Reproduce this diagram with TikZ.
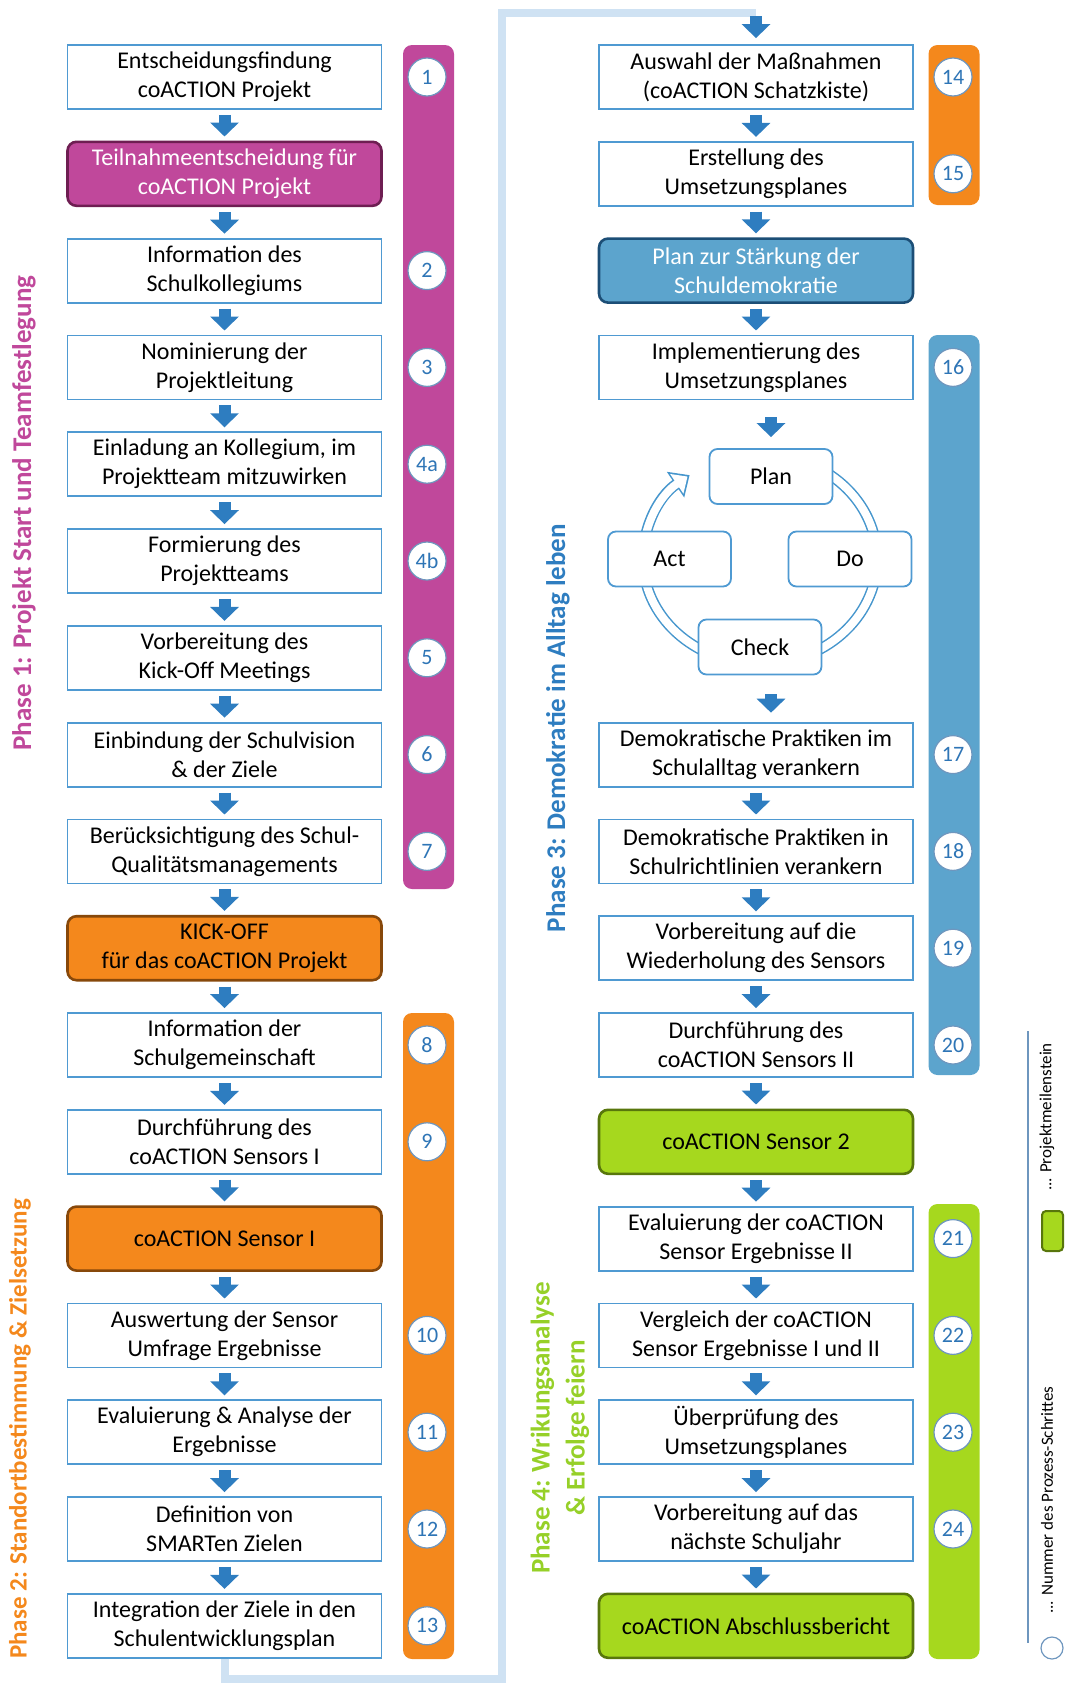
\documentclass[tikz,border=0pt]{standalone}
\usepackage{fontspec}
\setmainfont{Carlito}
\usetikzlibrary{arrows.meta}

\definecolor{stepline}{RGB}{79,154,210}
\definecolor{arrowblue}{RGB}{46,125,192}
\definecolor{magentaP}{RGB}{192,72,155}
\definecolor{magentaD}{RGB}{110,30,82}
\definecolor{orangeP}{RGB}{244,136,28}
\definecolor{orangeD}{RGB}{135,72,10}
\definecolor{blueP}{RGB}{92,164,205}
\definecolor{blueD}{RGB}{28,78,118}
\definecolor{greenP}{RGB}{166,216,30}
\definecolor{greenD}{RGB}{88,118,12}
\definecolor{greenT}{RGB}{150,208,40}
\definecolor{loopblue}{RGB}{207,226,243}
\definecolor{numblue}{RGB}{46,117,182}
\definecolor{numline}{RGB}{110,150,190}
\definecolor{ringline}{RGB}{70,150,205}

\begin{document}
\begin{tikzpicture}[x=1pt, y=-1pt,
	every node/.style={font=\fontsize{24}{29}\selectfont},
	stepbox/.style={draw=stepline, line width=1.8pt, fill=white, minimum width=314pt, minimum height=64pt, inner sep=0pt, align=center},
	milestone/.style={stepbox, rounded corners=9pt, line width=2.6pt},
	mmagenta/.style={milestone, fill=magentaP, draw=magentaD, text=white},
	morange/.style={milestone, fill=orangeP, draw=orangeD},
	mblue/.style={milestone, fill=blueP, draw=blueD, text=white},
	mgreen/.style={milestone, fill=greenP, draw=greenD},
	cycbox/.style={draw=stepline, line width=1.8pt, fill=white, rounded corners=8pt, minimum width=123pt, minimum height=55pt, inner sep=0pt},
	bar/.style={rectangle, rounded corners=9pt, minimum width=51pt, inner sep=0pt},
	num/.style={circle, draw=numline, line width=1.2pt, fill=white, minimum size=38pt, inner sep=0pt, text=numblue, font=\fontsize{22}{24}\selectfont},
	phase/.style={rotate=90, align=center, font=\fontsize{27}{35}\selectfont\bfseries},
	flow/.style={arrowblue, line width=12pt, -{Triangle[width=28pt,length=14pt]}, shorten <=5pt, shorten >=4pt},
	loopline/.style={loopblue, line width=8pt}]
	\useasboundingbox (0,0) rectangle (1065,1684);

	% coloured phase bars behind the step numbers
	\node[bar, fill=magentaP, minimum height=844pt] (B1) at (428.5,467) {};
	\node[bar, fill=orangeP, minimum height=646pt] (B2) at (428.5,1336) {};
	\node[bar, fill=orangeP, minimum height=160pt] (B3) at (954,125) {};
	\node[bar, fill=blueP, minimum height=740pt] (B4) at (954,705) {};
	\node[bar, fill=greenP, minimum height=455pt] (B5) at (954,1431.5) {};

	% left column
	\node[stepbox] (L0) at (224.5,77) {Entscheidungsfindung\\coACTION Projekt};
	\node[mmagenta] (L1) at (224.5,173.8) {Teilnahmeentscheidung für\\coACTION Projekt};
	\node[stepbox] (L2) at (224.5,270.6) {Information des\\Schulkollegiums};
	\node[stepbox] (L3) at (224.5,367.4) {Nominierung der\\Projektleitung};
	\node[stepbox] (L4) at (224.5,464.2) {Einladung an Kollegium, im\\Projektteam mitzuwirken};
	\node[stepbox] (L5) at (224.5,561) {Formierung des\\Projektteams};
	\node[stepbox] (L6) at (224.5,657.8) {Vorbereitung des\\Kick-Off Meetings};
	\node[stepbox] (L7) at (224.5,754.6) {Einbindung der Schulvision\\\& der Ziele};
	\node[stepbox] (L8) at (224.5,851.4) {Berücksichtigung des Schul-\\Qualitätsmanagements};
	\node[morange] (L9) at (224.5,948.2) {KICK-OFF\\für das coACTION Projekt};
	\node[stepbox] (L10) at (224.5,1045) {Information der\\Schulgemeinschaft};
	\node[stepbox] (L11) at (224.5,1141.8) {Durchführung des\\coACTION Sensors I};
	\node[morange] (L12) at (224.5,1238.6) {coACTION Sensor I};
	\node[stepbox] (L13) at (224.5,1335.4) {Auswertung der Sensor\\Umfrage Ergebnisse};
	\node[stepbox] (L14) at (224.5,1432.2) {Evaluierung \& Analyse der\\Ergebnisse};
	\node[stepbox] (L15) at (224.5,1529) {Definition von\\SMARTen Zielen};
	\node[stepbox] (L16) at (224.5,1625.8) {Integration der Ziele in den\\Schulentwicklungsplan};

	% right column
	\node[stepbox] (R0) at (756,77) {Auswahl der Maßnahmen\\(coACTION Schatzkiste)};
	\node[stepbox] (R1) at (756,173.8) {Erstellung des\\Umsetzungsplanes};
	\node[mblue] (R2) at (756,270.6) {Plan zur Stärkung der\\Schuldemokratie};
	\node[stepbox] (R3) at (756,367.4) {Implementierung des\\Umsetzungsplanes};
	\node[stepbox] (R7) at (756,754.6) {Demokratische Praktiken im\\Schulalltag verankern};
	\node[stepbox] (R8) at (756,851.4) {Demokratische Praktiken in\\Schulrichtlinien verankern};
	\node[stepbox] (R9) at (756,948.2) {Vorbereitung auf die\\Wiederholung des Sensors};
	\node[stepbox] (R10) at (756,1045) {Durchführung des\\coACTION Sensors II};
	\node[mgreen] (R11) at (756,1141.8) {coACTION Sensor 2};
	\node[stepbox] (R12) at (756,1238.6) {Evaluierung der coACTION\\Sensor Ergebnisse II};
	\node[stepbox] (R13) at (756,1335.4) {Vergleich der coACTION\\Sensor Ergebnisse I und II};
	\node[stepbox] (R14) at (756,1432.2) {Überprüfung des\\Umsetzungsplanes};
	\node[stepbox] (R15) at (756,1529) {Vorbereitung auf das\\nächste Schuljahr};
	\node[mgreen] (R16) at (756,1625.8) {coACTION Abschlussbericht};

	% PDCA ring, then its four boxes on top
	\coordinate (RC) at (760,559);
	\draw[ringline, line width=11pt, -{Triangle[width=30pt,length=17pt]}] ([shift={(95:117pt and 105pt)}]RC) arc[start angle=95, end angle=-233, x radius=117pt, y radius=105pt];
	\draw[white, line width=8pt, -{Triangle[width=23pt,length=13pt]}, shorten >=2.5pt] ([shift={(95:117pt and 105pt)}]RC) arc[start angle=95, end angle=-233, x radius=117pt, y radius=105pt];
	\node[cycbox] (Plan) at (771,476.5) {Plan};
	\node[cycbox] (Act) at (669.5,559) {Act};
	\node[cycbox] (Do) at (850,559) {Do};
	\node[cycbox] (Check) at (760,647) {Check};

	% step numbers
	\node[num] (N1) at (427,77) {1};
	\node[num] (N2) at (427,270.6) {2};
	\node[num] (N3) at (427,367.4) {3};
	\node[num] (N4a) at (427,464.2) {4a};
	\node[num] (N4b) at (427,561) {4b};
	\node[num] (N5) at (427,657.8) {5};
	\node[num] (N6) at (427,754.6) {6};
	\node[num] (N7) at (427,851.4) {7};
	\node[num] (N8) at (427,1045) {8};
	\node[num] (N9) at (427,1141.8) {9};
	\node[num] (N10) at (427,1335.4) {10};
	\node[num] (N11) at (427,1432.2) {11};
	\node[num] (N12) at (427,1529) {12};
	\node[num] (N13) at (427,1625.8) {13};
	\node[num] (N14) at (953,77) {14};
	\node[num] (N15) at (953,173.8) {15};
	\node[num] (N16) at (953,367.4) {16};
	\node[num] (N17) at (953,754.6) {17};
	\node[num] (N18) at (953,851.4) {18};
	\node[num] (N19) at (953,948.2) {19};
	\node[num] (N20) at (953,1045) {20};
	\node[num] (N21) at (953,1238.6) {21};
	\node[num] (N22) at (953,1335.4) {22};
	\node[num] (N23) at (953,1432.2) {23};
	\node[num] (N24) at (953,1529) {24};

	% phase titles
	\node[phase, text=magentaP] (T1) at (24,513) {Phase 1: Projekt Start und Teamfestlegung};
	\node[phase, text=orangeP, font=\fontsize{25}{34}\selectfont\bfseries] (T2) at (20,1429) {Phase 2: Standortbestimmung \& Zielsetzung};
	\node[phase, text=arrowblue] (T3) at (558,728) {Phase 3: Demokratie im Alltag leben};
	\node[phase, text=greenT] (T4) at (560,1428) {Phase 4: Wrikungsanalyse\\\& Erfolge feiern};

	% loop from the end of phase 2 to the top of phase 3
	\coordinate (Q1) at (502,1679);
	\coordinate (Q2) at (502,13);
	\draw[loopline] (L16.south) |- (Q1) -- (Q2) -- (Q2 -| R0.north);
	\draw[flow, shorten <=3pt, shorten >=6pt] (Q2 -| R0.north) -- (R0.north);

	% arrows, left column
	\draw[flow] (L0) -- (L1);
	\draw[flow] (L1) -- (L2);
	\draw[flow] (L2) -- (L3);
	\draw[flow] (L3) -- (L4);
	\draw[flow] (L4) -- (L5);
	\draw[flow] (L5) -- (L6);
	\draw[flow] (L6) -- (L7);
	\draw[flow] (L7) -- (L8);
	\draw[flow] (L8) -- (L9);
	\draw[flow] (L9) -- (L10);
	\draw[flow] (L10) -- (L11);
	\draw[flow] (L11) -- (L12);
	\draw[flow] (L12) -- (L13);
	\draw[flow] (L13) -- (L14);
	\draw[flow] (L14) -- (L15);
	\draw[flow] (L15) -- (L16);

	% arrows, right column
	\draw[flow] (R0) -- (R1);
	\draw[flow] (R1) -- (R2);
	\draw[flow] (R2) -- (R3);
	\draw[flow, shorten <=17pt, shorten >=11pt] (R3.south -| Plan.north) -- (Plan.north);
	\draw[flow, shorten <=19pt, shorten >=9pt] (Check.south -| Plan.north) -- (R7.north -| Plan.north);
	\draw[flow] (R7) -- (R8);
	\draw[flow] (R8) -- (R9);
	\draw[flow] (R9) -- (R10);
	\draw[flow] (R10) -- (R11);
	\draw[flow] (R11) -- (R12);
	\draw[flow] (R12) -- (R13);
	\draw[flow] (R13) -- (R14);
	\draw[flow] (R14) -- (R15);
	\draw[flow] (R15) -- (R16);

	% legend
	\coordinate (G1) at (1028,1031);
	\coordinate (G2) at (1028,1643);
	\draw[numline, line width=1.5pt] (G1) -- (G2);
	\node[rotate=90, font=\fontsize{17}{20}\selectfont] (T5) at (1047,1117) {... Projektmeilenstein};
	\node[rectangle, rounded corners=4pt, fill=greenP, draw=greenD, line width=2pt, minimum width=21pt, minimum height=40pt, inner sep=0pt] (G3) at (1052.5,1231) {};
	\node[rotate=90, font=\fontsize{17}{20}\selectfont] (T6) at (1047,1500) {... Nummer des Prozess-Schrittes};
	\node[circle, draw=numline, line width=1.2pt, minimum size=22pt, inner sep=0pt] (G4) at (1052,1648) {};
\end{tikzpicture}
\end{document}
